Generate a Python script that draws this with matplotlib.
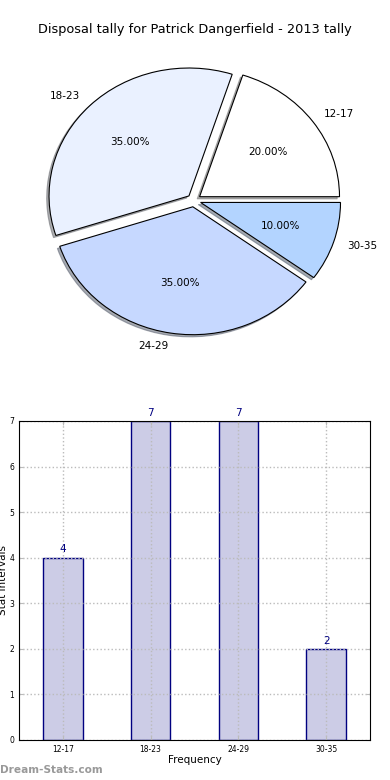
import matplotlib
matplotlib.use('Agg')
import numpy as np
from matplotlib import pyplot as plt

# data
categories = ['12-17', '18-23', '24-29', '30-35']
counts = [4, 7, 7, 2]
pie_colors = ['#FFFFFF', '#EAF1FF', '#C6D8FF', '#B3D4FF']
title = 'Disposal tally for Patrick Dangerfield - 2013 tally'

fig = plt.figure(figsize=(3.9, 7.8), dpi=100)

# pie part
ax1 = fig.add_axes([0.0487, 0.538, 0.897, 0.41])
wedges, texts, autotexts = ax1.pie(counts, labels=categories, colors=pie_colors,
                                   explode=[0.05] * 4, autopct='%1.2f%%',
                                   shadow={'ox': -0.012, 'oy': -0.012, 'shade': 0.6},
                                   wedgeprops={'edgecolor': 'black', 'linewidth': 0.8},
                                   textprops={'fontsize': 7.5})
ax1.set_aspect('auto')
ax1.set_xlim(-1.25, 1.25)
ax1.set_ylim(-1.25, 1.25)
fig.text(0.5, 0.962, title, ha='center', va='center', fontsize=9.3)

# bar part
ax2 = fig.add_axes([0.0487, 0.0513, 0.9, 0.409])
x = np.arange(len(categories))
ax2.bar(x, counts, width=0.45, color='#CCCCE6', edgecolor='#000080', linewidth=1.0, zorder=0.5)
for xi, c in zip(x, counts):
    ax2.text(xi, c + 0.07, str(c), ha='center', va='bottom', color='#000080', fontsize=7.5)
ax2.set_xlim(-0.5, 3.5)
ax2.set_ylim(0, 7)
ax2.set_xticks(x)
ax2.set_xticklabels(categories, fontsize=5.5)
ax2.set_yticks(range(8))
ax2.tick_params(axis='y', labelsize=5.5)
ax2.tick_params(direction='in', top=True, right=True, color='#BBBBBB', length=3)
ax2.set_axisbelow('line')
ax2.grid(True, linestyle=':', color='#BBBBBB', linewidth=1.0)
ax2.set_xlabel('Frequency', fontsize=7.5, labelpad=1)
ax2.set_ylabel('Stat Intervals', fontsize=7.5, labelpad=1)

fig.text(0.0, 0.013, 'Dream-Stats.com', ha='left', va='center', fontsize=7.6,
         color='#999999', fontweight='bold')

fig.savefig('out.png', dpi=100)
